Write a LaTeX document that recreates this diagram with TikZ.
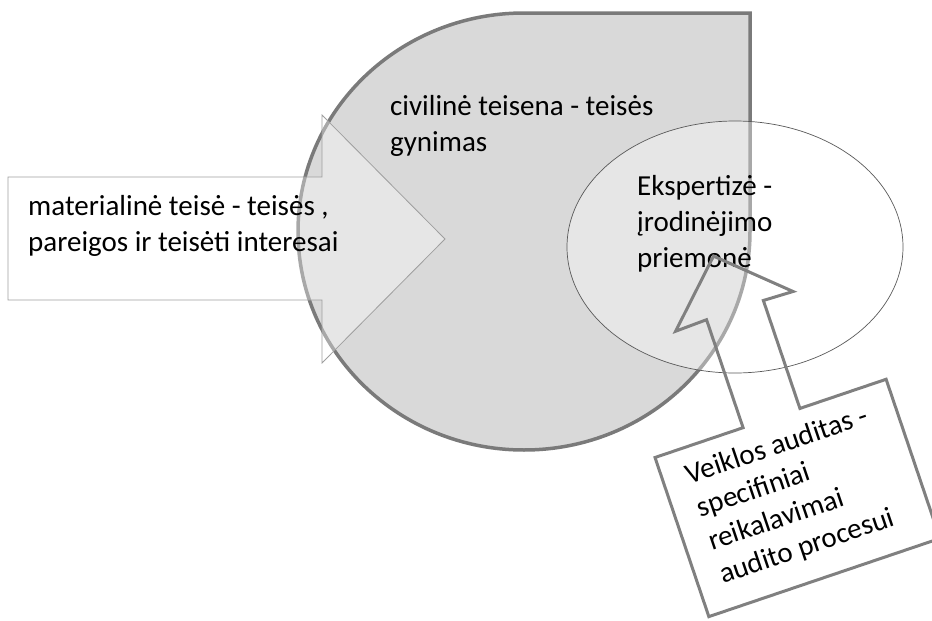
\documentclass[tikz,border=0pt]{standalone}
\usepackage{fontspec}
\setmainfont{Carlito}
\begin{document}
\begin{tikzpicture}[x=1pt,y=-1pt,
  label text/.style={inner sep=0pt, anchor=base west, text=black,
    font={\fontsize{29}{36}\selectfont}},
  drop/.style={fill=black!15, draw=black!52, line width=3.5pt, line join=miter},
  flow arrow/.style={fill=white, fill opacity=0.35, draw=black!38, line width=0.8pt},
  evidence/.style={fill=white, fill opacity=0.35, draw=black!65, line width=0.7pt},
  callout line/.style={draw=black!50, line width=3pt, line join=miter}]
  \useasboundingbox (0,0) rectangle (932,621);

  % teardrop: rounded body with a square top-right corner
  \path[drop] (524,13) -- (750,13) -- (750,231.5)
    arc[start angle=0, end angle=270, x radius=226, y radius=218.5] -- cycle;
  \node[label text] (civ) at (390,115)
    {\vtop{\hbox{civilinė teisena - teisės}\hbox{gynimas}}};

  % block arrow entering the drop from the left
  \path[flow arrow] (8,177) -- (322,177) -- (322,115) -- (445,239)
    -- (322,363) -- (322,300) -- (8,300) -- cycle;
  \node[label text] (mat) at (28,215)
    {\vtop{\hbox{materialinė teisė - teisės ,}\hbox{pareigos ir teisėti interesai}}};

  % ellipse of expert evidence
  \path[evidence] (735,247) ellipse[x radius=168, y radius=126];
  \node[label text] (eks) at (637,195)
    {\vtop{\hbox{Ekspertizė -}\hbox{įrodinėjimo}\hbox{priemonė}}};

  % tilted callout box with an upward arrow
  \begin{scope}[shift={(655,457.5)}, rotate=18.7]
    \draw[callout line] (0,0) -- (93,0) -- (93,-114) -- (60,-113)
      -- (120,-172) -- (184,-113) -- (153,-114) -- (153,0) -- (244,0)
      -- (244,168) -- (0,168) -- cycle;
    \node[label text, rotate=18.7] (aud) at (24,36.5)
      {\vtop{\baselineskip=35pt\hbox{Veiklos auditas -}\hbox{specifiniai}\hbox{reikalavimai}\hbox{audito procesui}}};
  \end{scope}
\end{tikzpicture}
\end{document}
